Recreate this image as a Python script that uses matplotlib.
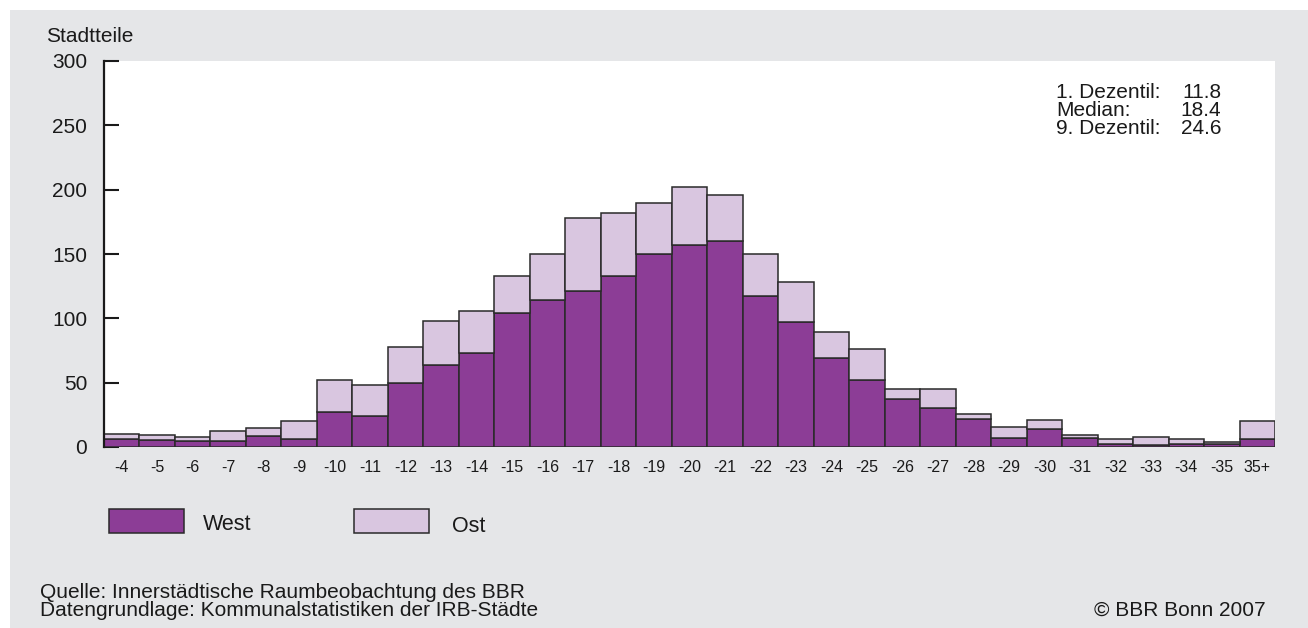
import numpy as np
import matplotlib.pyplot as plt
from matplotlib.patches import Rectangle

plt.rcParams['font.family'] = ['Liberation Sans', 'DejaVu Sans']

# Kategorien (Klassen) und Anzahl Stadtteile
categories = ['-4', '-5', '-6', '-7', '-8', '-9', '-10', '-11', '-12', '-13', '-14',
              '-15', '-16', '-17', '-18', '-19', '-20', '-21', '-22', '-23', '-24',
              '-25', '-26', '-27', '-28', '-29', '-30', '-31', '-32', '-33', '-34',
              '-35', '35+']
west = [6.5, 5.2, 4.4, 4.4, 8.8, 6, 27, 24, 50, 64, 73,
        104, 114, 121, 133, 150, 157, 160, 117, 97, 69,
        52, 37, 30, 22, 7.3, 14, 7, 2, 1.3, 2.6,
        2, 6.5]
ost = [3.9, 4.1, 3.1, 7.8, 5.7, 14.2, 25, 24, 28, 34, 33,
       29, 36, 57, 49, 40, 45, 36, 33, 31, 20,
       24, 8, 15, 3.4, 8, 7.3, 2, 4.2, 6.2, 3.6,
       2, 13.7]
yticks = [0, 50, 100, 150, 200, 250, 300]
stats_labels = ['1. Dezentil:', 'Median:', '9. Dezentil:']
stats_values = ['11.8', '18.4', '24.6']

c_west = '#8c3d96'
c_ost = '#d9c6e0'
c_edge = '#2a2a2a'
c_bg = '#e5e6e8'
c_txt = '#1a1a1a'

W, H = 1308, 628
fig = plt.figure(figsize=(W / 100, H / 100), dpi=100)
fig.patch.set_facecolor('white')
fig.add_artist(Rectangle((10 / W, 0), 1 - 10 / W, 1 - 10 / H, transform=fig.transFigure,
                         facecolor=c_bg, edgecolor='none', zorder=-10))

ax = fig.add_axes([104 / W, (H - 447) / H, 1171 / W, 386 / H])
ax.set_facecolor('white')

x = np.arange(len(categories))
ax.bar(x, west, width=1.0, color=c_west, edgecolor=c_edge, linewidth=1.1, zorder=2)
ax.bar(x, ost, width=1.0, bottom=west, color=c_ost, edgecolor=c_edge, linewidth=1.1, zorder=2)

ax.set_xlim(-0.5, len(categories) - 0.5)
ax.set_ylim(0, 300)
ax.set_yticks(yticks)
ax.set_xticks(x)
ax.set_xticklabels(categories)
ax.tick_params(axis='y', direction='in', length=11, width=1.5, pad=12, labelsize=15,
               color=c_txt, labelcolor=c_txt)
ax.tick_params(axis='x', length=0, pad=9, labelsize=11.5, labelcolor=c_txt)
for s in ['top', 'right', 'bottom']:
    ax.spines[s].set_visible(False)
ax.spines['left'].set_linewidth(1.6)
ax.spines['left'].set_color(c_txt)

# Statistik-Kasten
for i, (lab, val) in enumerate(zip(stats_labels, stats_values)):
    yy = 1 - (93 + 17.5 * i) / H
    fig.text(1056 / W, yy, lab, fontsize=15, va='center', ha='left', color=c_txt)
    fig.text(1221 / W, yy, val, fontsize=15, va='center', ha='right', color=c_txt)

fig.text(46 / W, 1 - 36 / H, 'Stadtteile', fontsize=15, va='center', ha='left', color=c_txt)

# Legende
fig.add_artist(Rectangle((109 / W, 1 - 533 / H), 75 / W, 24 / H, transform=fig.transFigure,
                         facecolor=c_west, edgecolor=c_edge, linewidth=1.1))
fig.text(203 / W, 1 - 524 / H, 'West', fontsize=15.5, va='center', ha='left', color=c_txt)
fig.add_artist(Rectangle((354 / W, 1 - 533 / H), 75 / W, 24 / H, transform=fig.transFigure,
                         facecolor=c_ost, edgecolor=c_edge, linewidth=1.1))
fig.text(452 / W, 1 - 526 / H, 'Ost', fontsize=15.5, va='center', ha='left', color=c_txt)

# Quellen
fig.text(40 / W, 1 - 592 / H, 'Quelle: Innerstädtische Raumbeobachtung des BBR',
         fontsize=15, va='center', ha='left', color=c_txt)
fig.text(40 / W, 1 - 610 / H, 'Datengrundlage: Kommunalstatistiken der IRB-Städte',
         fontsize=15, va='center', ha='left', color=c_txt)
fig.text(1266 / W, 1 - 610 / H, '© BBR Bonn 2007', fontsize=15, va='center', ha='right',
         color=c_txt)

fig.savefig('out.png', dpi=100, facecolor=fig.get_facecolor())
